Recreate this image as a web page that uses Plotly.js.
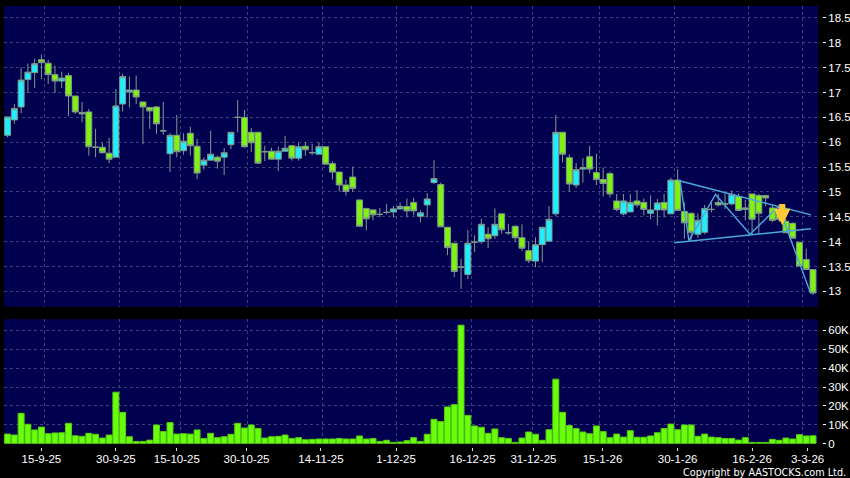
<!DOCTYPE html>
<html><head><meta charset="utf-8">
<script src="https://cdn.plot.ly/plotly-3.0.1.min.js"></script>
<style>html,body{margin:0;padding:0;background:#000}</style></head>
<body><div id="chart" style="width:850px;height:478px"></div>
<script>
const opens=[16.14,16.45,16.71,17.26,17.40,17.66,17.59,17.36,17.23,17.34,16.93,16.60,16.61,15.90,15.90,15.78,15.70,16.77,17.01,17.05,16.81,16.70,16.71,16.23,15.77,16.14,15.83,16.18,15.92,15.54,15.64,15.70,15.70,15.95,16.50,16.50,16.20,16.20,15.81,15.82,15.66,15.82,15.93,15.68,15.92,15.79,15.76,15.91,15.57,15.40,15.14,15.30,14.84,14.67,14.64,14.55,14.59,14.60,14.66,14.71,14.79,14.51,14.74,15.19,15.15,14.29,13.97,13.49,13.34,13.99,14.00,14.15,14.12,14.56,14.18,14.31,14.08,13.82,13.61,13.94,14.01,14.56,16.20,15.69,15.14,15.46,15.71,15.39,15.25,15.37,14.82,14.56,14.60,14.82,14.79,14.57,14.64,14.79,14.56,15.24,14.61,14.57,14.15,14.19,14.65,14.79,14.76,14.76,14.91,14.65,14.96,14.93,14.93,14.68,14.60,14.41,14.37,13.99,13.64,13.44];
const closes=[16.51,16.68,17.25,17.41,17.58,17.60,17.36,17.23,17.29,16.93,16.61,16.57,15.91,15.90,15.79,15.66,16.73,17.32,17.05,16.91,16.71,16.63,16.37,16.23,16.14,15.81,16.02,15.93,15.38,15.64,15.76,15.62,15.79,16.20,16.50,15.91,15.99,15.58,15.81,15.66,15.82,15.88,15.68,15.91,15.85,15.79,15.91,15.56,15.40,15.14,15.01,15.07,14.31,14.46,14.54,14.55,14.59,14.66,14.71,14.62,14.62,14.58,14.86,15.27,14.30,13.88,13.40,13.49,13.97,13.99,14.35,14.06,14.35,14.24,14.18,14.08,13.87,13.62,13.94,14.29,14.45,16.20,15.76,15.16,15.45,15.49,15.46,15.25,15.17,14.96,14.65,14.82,14.79,14.74,14.65,14.64,14.78,14.64,15.24,14.63,14.38,14.19,14.43,14.67,14.65,14.74,14.76,14.95,14.63,14.68,14.45,14.57,14.88,14.43,14.45,14.18,14.07,13.51,13.44,12.97];
const highs=[16.51,16.77,17.50,17.58,17.68,17.76,17.66,17.54,17.42,17.40,16.93,16.81,16.67,16.27,15.99,16.09,17.07,17.38,17.32,17.34,16.81,16.71,16.73,16.81,16.18,16.55,16.18,16.31,16.07,15.70,16.23,15.73,15.88,16.21,16.85,16.65,16.29,16.20,15.93,15.89,15.91,16.13,15.94,15.99,16.00,15.97,16.00,15.91,15.62,15.40,15.25,15.51,14.84,14.67,14.64,14.68,14.76,14.72,14.79,14.87,14.88,14.63,14.98,15.64,15.19,14.29,13.97,13.66,14.24,14.13,14.46,14.29,14.67,14.56,14.36,14.33,14.35,14.01,14.09,14.29,14.72,16.55,16.20,15.76,15.58,15.68,15.93,15.77,15.49,15.41,14.96,14.96,14.96,15.04,14.87,14.93,14.86,14.96,15.29,15.46,14.79,14.59,14.57,14.74,14.83,14.96,14.97,15.03,14.97,14.84,14.96,14.96,14.93,14.74,14.75,14.46,14.39,13.99,13.86,13.44];
const lows=[16.10,16.37,16.58,16.99,17.09,17.27,17.17,16.99,17.09,16.52,16.57,16.40,15.73,15.70,15.77,15.58,15.70,16.62,16.70,16.77,15.96,16.27,16.17,16.15,15.40,15.70,15.75,15.73,15.26,15.45,15.64,15.47,15.34,15.86,16.20,15.89,15.80,15.56,15.62,15.66,15.42,15.82,15.63,15.63,15.73,15.74,15.76,15.56,15.25,15.01,14.93,15.00,14.31,14.23,14.43,14.49,14.55,14.49,14.64,14.49,14.53,14.39,14.49,15.16,14.30,13.73,13.29,13.05,13.25,13.79,13.96,13.87,14.06,14.16,14.14,13.99,13.81,13.57,13.49,13.59,14.01,14.51,15.59,15.01,15.08,15.19,15.37,15.14,14.91,14.89,14.61,14.53,14.60,14.69,14.53,14.45,14.33,14.49,14.56,14.63,14.06,14.01,14.08,14.15,14.59,14.71,14.66,14.73,14.61,14.43,14.16,14.16,14.71,14.39,14.40,14.18,14.07,13.51,13.44,12.93];
const volumes=[5.1,4.6,16.1,10.3,7.3,8.8,5.3,5.7,5.8,10.8,4.2,3.9,5.5,5.0,3.0,4.6,27.3,16.6,3.7,1.2,1.2,1.9,9.9,6.4,11.2,5.1,5.3,5.1,7.3,2.8,5.5,3.2,3.7,5.0,10.8,8.3,9.9,8.1,3.0,3.7,3.9,4.6,2.8,3.2,2.1,2.3,2.5,2.5,2.5,2.8,2.5,2.5,4.1,2.5,2.8,1.2,1.8,0.7,0.9,1.6,3.2,1.2,5.0,12.9,11.7,19.5,20.7,62.8,15.0,9.4,8.7,5.5,7.8,3.2,2.8,0.7,3.0,6.2,5.0,1.8,7.4,34.2,16.6,9.6,8.0,6.2,5.3,9.4,6.4,3.2,5.1,3.5,6.9,3.4,3.4,4.1,5.8,8.0,10.4,7.4,9.9,9.9,3.9,5.1,3.5,3.2,2.7,2.8,1.9,3.2,0.7,0.7,0.7,2.3,1.8,3.0,2.5,4.8,4.1,4.2];
const sessions=opens.map((_,i)=>i);
const volumeK=volumes.map(v=>v*1000);

const dateLabels=['15-9-25','30-9-25','15-10-25','30-10-25','14-11-25','1-12-25','16-12-25','31-12-25','15-1-26','30-1-26','16-2-26','3-3-26'];
const dateLabelAt=[5,16,25,35.3,46.3,57.4,68.7,77.7,87.9,99,110,118.2];
const gridAt=[5.5,16.5,25.5,35.5,46.5,57.5,68.5,77.5,87.5,98.5,109.5,117.5];
const priceTicks=[13,13.5,14,14.5,15,15.5,16,16.5,17,17.5,18,18.5];
const volumeTicks=[0,10000,20000,30000,40000,50000,60000];
const volumeLabels=['0','10K','20K','30K','40K','50K','60K'];

const upperTrendX=[99.1,118.7], upperTrendY=[15.23,14.54];
const lowerTrendX=[98.5,118.7], lowerTrendY=[13.98,14.26];
const zigzagX=[99.35,100.67,104.6,109.7,113.9,118.66];
const zigzagY=[15.23,14.02,14.95,14.15,14.71,12.96];

const GREEN='#7ff212', CYAN='#20eefc', EDGE='#7f9a8c', NAVY='#00004e', GRID='#3f3f7c', BLUE='#4aa8d8';
const H=478, plotTop=5.5, plotBot=447, plotH=plotBot-plotTop;
const frac=y=>(plotBot-y)/plotH;

const candle={type:'candlestick',x:sessions,open:opens,high:highs,low:lows,close:closes,xaxis:'x',yaxis:'y',
  increasing:{fillcolor:CYAN,line:{color:EDGE,width:1}},
  decreasing:{fillcolor:GREEN,line:{color:EDGE,width:1}},
  whiskerwidth:0,hoverinfo:'skip'};
const vol={type:'bar',x:sessions,y:volumeK,xaxis:'x2',yaxis:'y2',width:0.88,
  marker:{color:'#69ff0a',line:{color:'#55cc10',width:1}},hoverinfo:'skip'};
const line=(x,y)=>({type:'scatter',mode:'lines',x,y,xaxis:'x',yaxis:'y',line:{color:BLUE,width:1.4},hoverinfo:'skip'});

const xRange=[-0.53,119.74];
const xDom=[0,(818-4)/(822-4)];
const gridStyle={showgrid:true,gridcolor:GRID,griddash:'3px,3px',gridwidth:1};
const layout={
  width:850,height:H,paper_bgcolor:'#000',plot_bgcolor:NAVY,showlegend:false,
  margin:{l:4,r:28,t:plotTop,b:H-plotBot,pad:0},
  boxgap:0.12,boxgroupgap:0,bargap:0.14,
  font:{family:'Liberation Sans, Arial, sans-serif',size:11.5,color:'#fff'},
  xaxis:Object.assign({domain:xDom,range:xRange,anchor:'y',rangeslider:{visible:false},tickmode:'array',tickvals:gridAt,showticklabels:false,ticks:'',zeroline:false,showline:false},gridStyle),
  yaxis:Object.assign({domain:[frac(306.7),1],range:[12.69,18.74],anchor:'free',position:1,side:'right',tickmode:'array',tickvals:priceTicks,ticktext:priceTicks.map(String),ticks:'outside',ticklen:3,tickcolor:'#fff',tickfont:{size:11.5,color:'#fff'},zeroline:false,showline:false},gridStyle),
  xaxis2:{domain:xDom,range:xRange,anchor:'free',position:0,tickmode:'array',tickvals:dateLabelAt,ticktext:dateLabels,ticks:'outside',ticklen:3,tickcolor:'#ddd',tickfont:{size:11.5,color:'#fff'},showgrid:false,zeroline:false,showline:false,tickangle:0,ticklabelstandoff:-2,
    minor:{tickmode:'array',tickvals:gridAt,showgrid:true,gridcolor:GRID,griddash:'3px,3px',gridwidth:1,ticks:''}},
  yaxis2:Object.assign({domain:[frac(443.7),frac(319)],range:[0,66000],anchor:'free',position:1,side:'right',tickmode:'array',tickvals:volumeTicks,ticktext:volumeLabels,ticks:'outside',ticklen:3,tickcolor:'#fff',tickfont:{size:11.5,color:'#fff'},zeroline:false,showline:false},gridStyle),
  annotations:[
    {xref:'x',yref:'y',axref:'x',ayref:'y',x:114.46,y:14.33,ax:114.46,ay:14.79,text:'',showarrow:true,arrowhead:2,arrowsize:0.55,arrowwidth:6,arrowcolor:'#ffc933',standoff:0},
    {xref:'paper',yref:'paper',x:1,xanchor:'right',xshift:26,y:0,yshift:-25,yanchor:'middle',text:'Copyright by AASTOCKS.com Ltd.',showarrow:false,font:{family:'DejaVu Sans',size:9.7,color:'#fff'}}
  ]
};
Plotly.newPlot('chart',[candle,vol,line(upperTrendX,upperTrendY),line(lowerTrendX,lowerTrendY),line(zigzagX,zigzagY)],layout,{displayModeBar:false,staticPlot:true});
</script></body></html>
